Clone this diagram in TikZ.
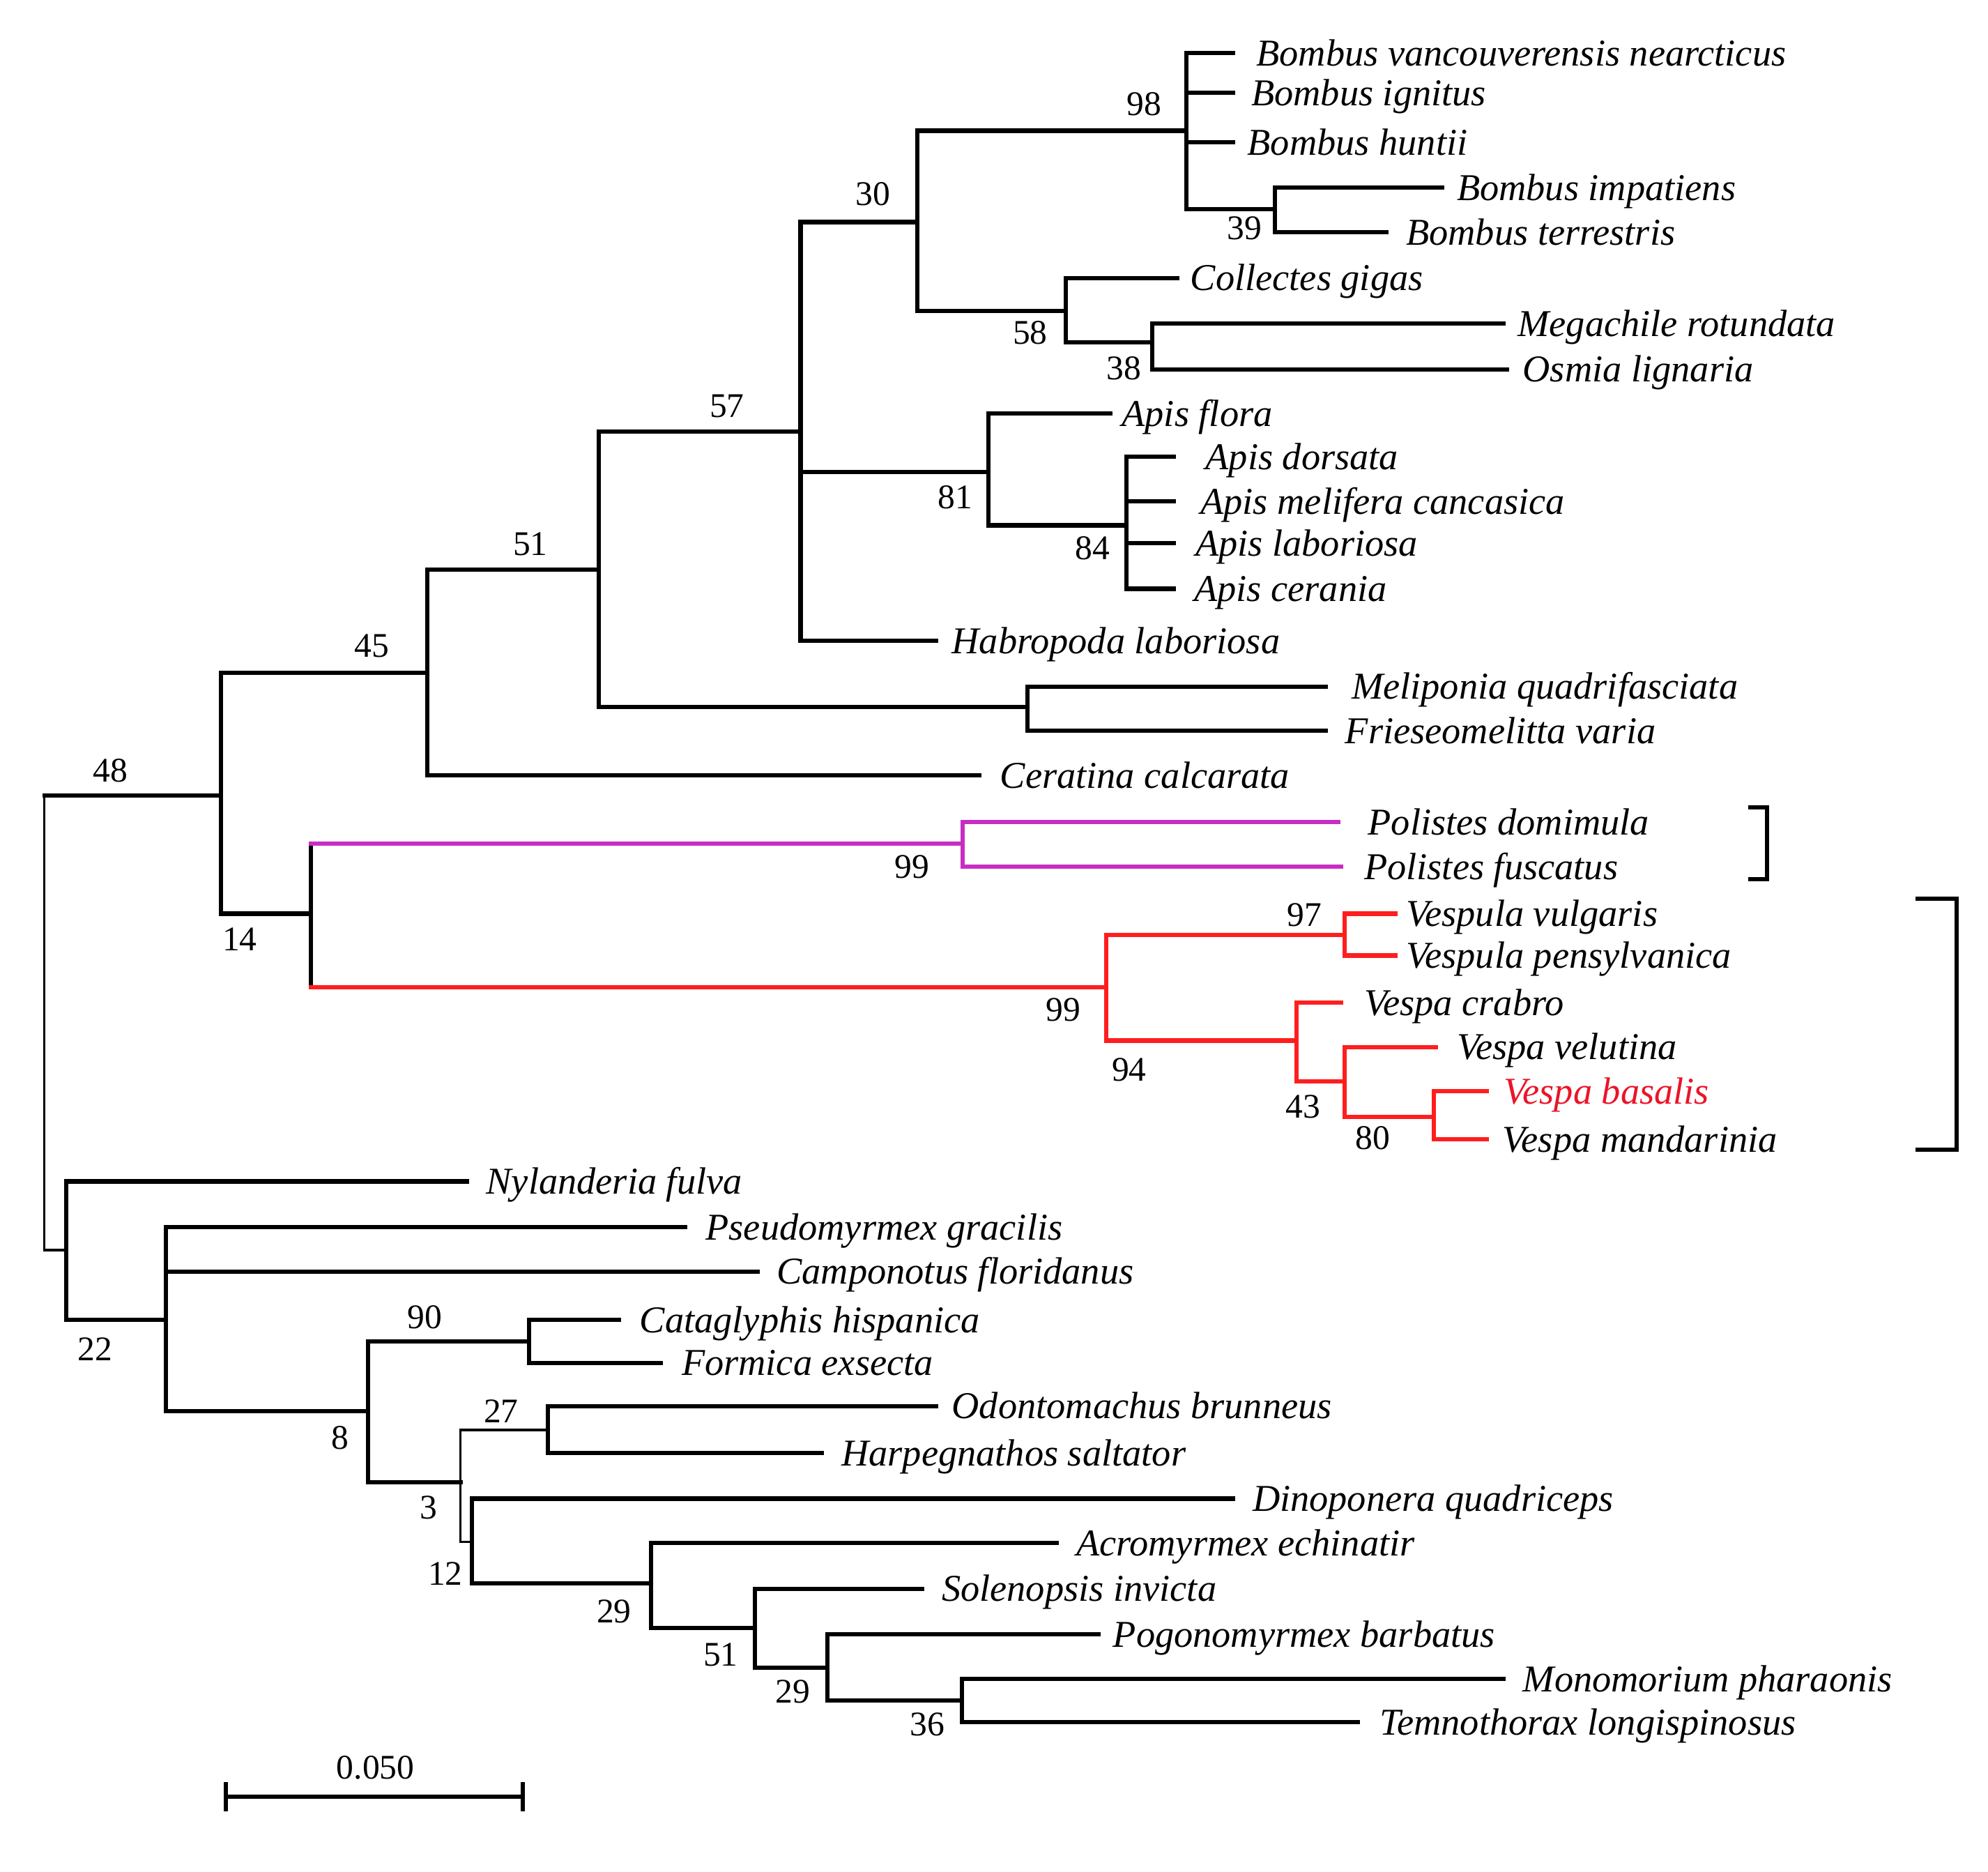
\documentclass[tikz,border=0pt]{standalone}
\usepackage{fontspec}
\setmainfont{Liberation Serif}
\definecolor{polcol}{RGB}{200,45,195}
\definecolor{vescol}{RGB}{255,30,30}
\definecolor{bascol}{RGB}{235,20,40}
\begin{document}
\begin{tikzpicture}[x=0.02cm,y=-0.02cm,
  br/.style={line width=1.9pt, line cap=rect},
  thinbr/.style={line width=1.1pt, line cap=rect},
  leaf/.style={anchor=base west, inner sep=0pt, yshift=-0.2cm, font=\fontsize{17}{20}\selectfont\itshape},
  bs/.style={inner sep=0pt, font=\fontsize{15.5}{18}\selectfont},
  magbr/.style={br, draw=polcol},
  redbr/.style={br, draw=vescol}]
\fill[white] (0,0) rectangle (1567,1474.7);
\useasboundingbox (0,0) rectangle (1567,1474.7);

% internal nodes
\foreach \n/\x/\y in {root/35/806, n48/174/627, n45/337/530, n51/472/449, n57/631/340,
  n30/723/175, n98/935/103, n39/1005/165, n58/840/245, n38/908/270, n81/779/372,
  n84/888/414, nMF/810/557, n14/245/720, nPol/759/665, nVes/872/778, n97/1060/737,
  n94/1022/820, n43/1060/852, n80/1130/880, n22/52/985, nA/131/1040, n8/290/1112,
  n90/417/1057, n3/363/1168, n27/432/1127, n12/372/1215, n29a/513/1248,
  n51b/595/1283, n29b/652/1314, n36/758/1340}
  \coordinate (\n) at (\x,\y);

% leaves
\foreach \n/\y/\e/\lx/\col/\txt in {
  1/42/972/990/black/Bombus vancouverensis nearcticus,
  2/73/972/986/black/Bombus ignitus,
  3/112/972/983/black/Bombus huntii,
  4/148/1137/1148/black/Bombus impatiens,
  5/183/1093/1108/black/Bombus terrestris,
  6/219/928/938/black/Collectes gigas,
  7/255/1185/1196/black/Megachile rotundata,
  8/291/1188/1200/black/Osmia lignaria,
  9/326/875/884/black/Apis flora,
  10/360/925/950/black/Apis dorsata,
  11/395/925/946/black/Apis melifera cancasica,
  12/428/925/942/black/Apis laboriosa,
  13/464/925/941/black/Apis cerania,
  14/505/738/750/black/Habropoda laboriosa,
  15/541/1045/1065/black/Meliponia quadrifasciata,
  16/576/1045/1060/black/Frieseomelitta varia,
  17/611/772/788/black/Ceratina calcarata,
  18/648/1055/1078/black/Polistes domimula,
  19/683/1057/1075/black/Polistes fuscatus,
  20/720/1100/1108/black/Vespula vulgaris,
  21/753/1100/1108/black/Vespula pensylvanica,
  22/790/1057/1075/black/Vespa crabro,
  23/825/1132/1148/black/Vespa velutina,
  24/860/1172/1185/bascol/Vespa basalis,
  25/898/1172/1184/black/Vespa mandarinia,
  26/931/368/383/black/Nylanderia fulva,
  27/967/540/556/black/Pseudomyrmex gracilis,
  28/1002/597/612/black/Camponotus floridanus,
  29/1040/488/504/black/Cataglyphis hispanica,
  30/1074/521/537/black/Formica exsecta,
  31/1108/738/750/black/Odontomachus brunneus,
  32/1145/648/663/black/Harpegnathos saltator,
  33/1181/972/987/black/Dinoponera quadriceps,
  34/1216/833/848/black/Acromyrmex echinatir,
  35/1252/727/742/black/Solenopsis invicta,
  36/1288/866/877/black/Pogonomyrmex barbatus,
  37/1323/1185/1200/black/Monomorium pharaonis,
  38/1357/1070/1087/black/Temnothorax longispinosus}
{
  \coordinate (e\n) at (\e,\y);
  \node[leaf, text=\col] (t\n) at (\lx,\y) {\txt};
}

% root
\draw[thinbr] (root |- n48) -- (root |- n22);
\draw[br] (root |- n48) -- (n48);
\draw[thinbr] (root |- n22) -- (n22);

% black branches
\foreach \p/\c in {n48/n45, n48/n14, n45/n51, n45/e17, n51/n57, n51/nMF,
  nMF/e15, nMF/e16, n57/n30, n57/n81, n57/e14, n30/n98, n30/n58,
  n98/e1, n98/e2, n98/e3, n98/n39, n39/e4, n39/e5, n58/e6, n58/n38, n38/e7, n38/e8,
  n81/e9, n81/n84, n84/e10, n84/e11, n84/e12, n84/e13,
  n22/e26, n22/nA, nA/e27, nA/e28, nA/n8, n8/n90, n90/e29, n90/e30, n8/n3,
  n27/e31, n27/e32, n12/e33, n12/n29a, n29a/e34, n29a/n51b,
  n51b/e35, n51b/n29b, n29b/e36, n29b/n36, n36/e37, n36/e38}
  \draw[br] (\p) |- (\c);
\foreach \p/\c in {n3/n27, n3/n12}
  \draw[thinbr] (\p) |- (\c);

% Polistes (magenta) and Vespinae (red)
\draw[br] (n14) -- (n14 |- nPol);
\draw[br] (n14) -- (n14 |- nVes);
\draw[magbr] (n14 |- nPol) -- (nPol);
\draw[redbr] (n14 |- nVes) -- (nVes);
\foreach \p/\c in {nPol/e18, nPol/e19}
  \draw[magbr] (\p) |- (\c);
\foreach \p/\c in {nVes/n97, nVes/n94, n97/e20, n97/e21, n94/e22, n94/n43,
  n43/e23, n43/n80, n80/e24, n80/e25}
  \draw[redbr] (\p) |- (\c);

% bootstrap values
\foreach \n/\x/\y/\v in {b48/87/607/48, b45/293/509/45, b51/418/429/51, b57/573/320/57,
  b30/688/153/30, b98/902/82/98, b39/981/180/39, b58/812/262/58, b38/886/290/38,
  b81/753/392/81, b84/861/432/84, b14/189/740/14, b99a/719/683/99, b97/1028/721/97,
  b99b/838/796/99, b94/890/843/94, b43/1027/872/43, b80/1082/897/80, b22/75/1063/22,
  b90/335/1038/90, b8/268/1133/8, b27/395/1112/27, b3/338/1188/3, b12/351/1240/12,
  b29a/484/1270/29, b51b/568/1304/51, b29b/625/1333/29, b36/731/1359/36}
  \node[bs] (\n) at (\x,\y) {\v};

% brackets
\coordinate (pb1) at (1378,636);
\coordinate (pb2) at (1393,636);
\coordinate (pb3) at (1393,693);
\coordinate (pb4) at (1378,693);
\draw[br, line cap=butt] (pb1) -- (pb2) -- (pb3) -- (pb4);
\coordinate (vb1) at (1510,708);
\coordinate (vb2) at (1542,708);
\coordinate (vb3) at (1542,906);
\coordinate (vb4) at (1510,906);
\draw[br, line cap=butt] (vb1) -- (vb2) -- (vb3) -- (vb4);

% scale bar
\coordinate (sb1) at (178,1416);
\coordinate (sb2) at (412,1416);
\draw[br] (sb1) -- (sb2);
\draw[br] ([yshift=0.2cm]sb1) -- ([yshift=-0.2cm]sb1);
\draw[br] ([yshift=0.2cm]sb2) -- ([yshift=-0.2cm]sb2);
\node[bs] (sbl) at (296,1393) {0.050};
\end{tikzpicture}
\end{document}
